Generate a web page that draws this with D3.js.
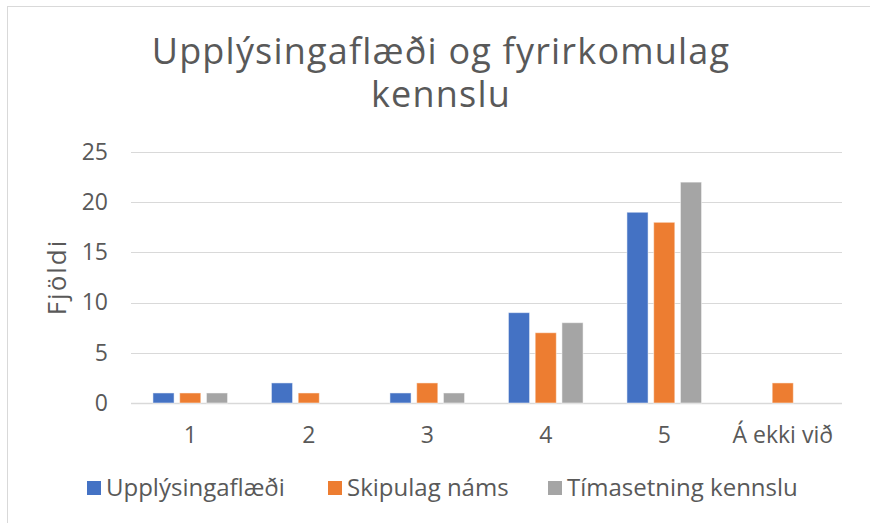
<!DOCTYPE html>
<html>
<head>
<meta charset="utf-8">
<script src="https://cdn.jsdelivr.net/npm/d3@7"></script>
<style>
  body { margin: 0; background: #fff; }
  text { font-family: "Open Sans", sans-serif; fill: #595959; }
</style>
</head>
<body>
<div id="chart"></div>
<script>
// data
let categories = ["1", "2", "3", "4", "5", "Á ekki við"];
let seriesNames = ["Upplýsingaflæði", "Skipulag náms", "Tímasetning kennslu"];
let upplysingaflaedi = [1, 2, 1, 9, 19, 0];
let skipulagNams = [1, 1, 2, 7, 18, 2];
let timasetning = [1, 0, 1, 8, 22, 0];
let yTicks = [0, 5, 10, 15, 20, 25];

let colors = ["#4472C4", "#ED7D31", "#A5A5A5"];
let allSeries = [upplysingaflaedi, skipulagNams, timasetning];

let svgWidth = 870;
let svgHeight = 523;
let plotLeft = 131, plotRight = 842, plotTop = 152, plotBottom = 403;

let svg = d3.select("#chart")
  .append("svg")
  .attr("width", svgWidth)
  .attr("height", svgHeight)

// chart border
svg.append("rect")
  .attr("x", 7.5).attr("y", 6.5)
  .attr("width", 880).attr("height", 540)
  .attr("fill", "none")
  .attr("stroke", "#d9d9d9")

let xScale = d3.scaleBand().domain(categories).range([plotLeft, plotRight])
let xInner = d3.scaleBand().domain(d3.range(3)).range([0, xScale.bandwidth()]).paddingInner(0.21).paddingOuter(0.82)
let yScale = d3.scaleLinear().domain([0, 25]).range([plotBottom, plotTop])

// gridlines
svg.append("g")
  .selectAll("line")
  .data(yTicks)
  .enter()
  .append("line")
  .attr("x1", plotLeft).attr("x2", plotRight)
  .attr("y1", d => Math.round(yScale(d)) + 0.5)
  .attr("y2", d => Math.round(yScale(d)) + 0.5)
  .attr("stroke", "#d9d9d9")
  .attr("stroke-width", d => d == 0 ? 1.5 : 1)

// y axis labels
let yAxis = d3.axisLeft(yScale).tickValues(yTicks).tickSize(0).tickPadding(23)
let yG = svg.append("g")
  .attr("transform", `translate(${plotLeft},0)`)
  .call(yAxis)
yG.select(".domain").remove()
yG.selectAll("text").style("font-size", "23px").attr("fill", "#595959")

// x axis labels
let xAxis = d3.axisBottom(xScale).tickSize(0).tickPadding(24)
let xG = svg.append("g")
  .attr("transform", `translate(0,${plotBottom})`)
  .call(xAxis)
xG.select(".domain").remove()
xG.selectAll("text").style("font-size", "23px").attr("fill", "#595959")

// bars
allSeries.forEach(function(values, s) {
  svg.append("g")
    .selectAll("rect")
    .data(values)
    .enter()
    .append("rect")
    .attr("x", (d, i) => xScale(categories[i]) + xInner(s))
    .attr("width", xInner.bandwidth())
    .attr("y", d => yScale(d))
    .attr("height", d => plotBottom - yScale(d))
    .attr("fill", colors[s])
    .attr("stroke", "#fff")
    .attr("stroke-opacity", 0.5)
})

// title
svg.append("text")
  .attr("x", 441).attr("y", 64)
  .attr("text-anchor", "middle")
  .style("font-size", "36px")
  .style("letter-spacing", "1.2px")
  .text("Upplýsingaflæði og fyrirkomulag")
svg.append("text")
  .attr("x", 441).attr("y", 107)
  .attr("text-anchor", "middle")
  .style("font-size", "36px")
  .style("letter-spacing", "1.2px")
  .text("kennslu")

// y axis title
svg.append("text")
  .attr("transform", "translate(66,277) rotate(-90)")
  .attr("text-anchor", "middle")
  .style("font-size", "26px")
  .style("letter-spacing", "2px")
  .text("Fjöldi")

// legend
let legendX = [87, 328, 548];
let legend = svg.append("g")
  .selectAll("g")
  .data(seriesNames)
  .enter()
  .append("g")
  .attr("transform", (d, i) => `translate(${legendX[i]},481)`)
legend.append("rect")
  .attr("width", 14).attr("height", 14)
  .attr("fill", (d, i) => colors[i])
legend.append("text")
  .attr("x", 19).attr("y", 15)
  .style("font-size", "24px")
  .text(d => d)
</script>
</body>
</html>
